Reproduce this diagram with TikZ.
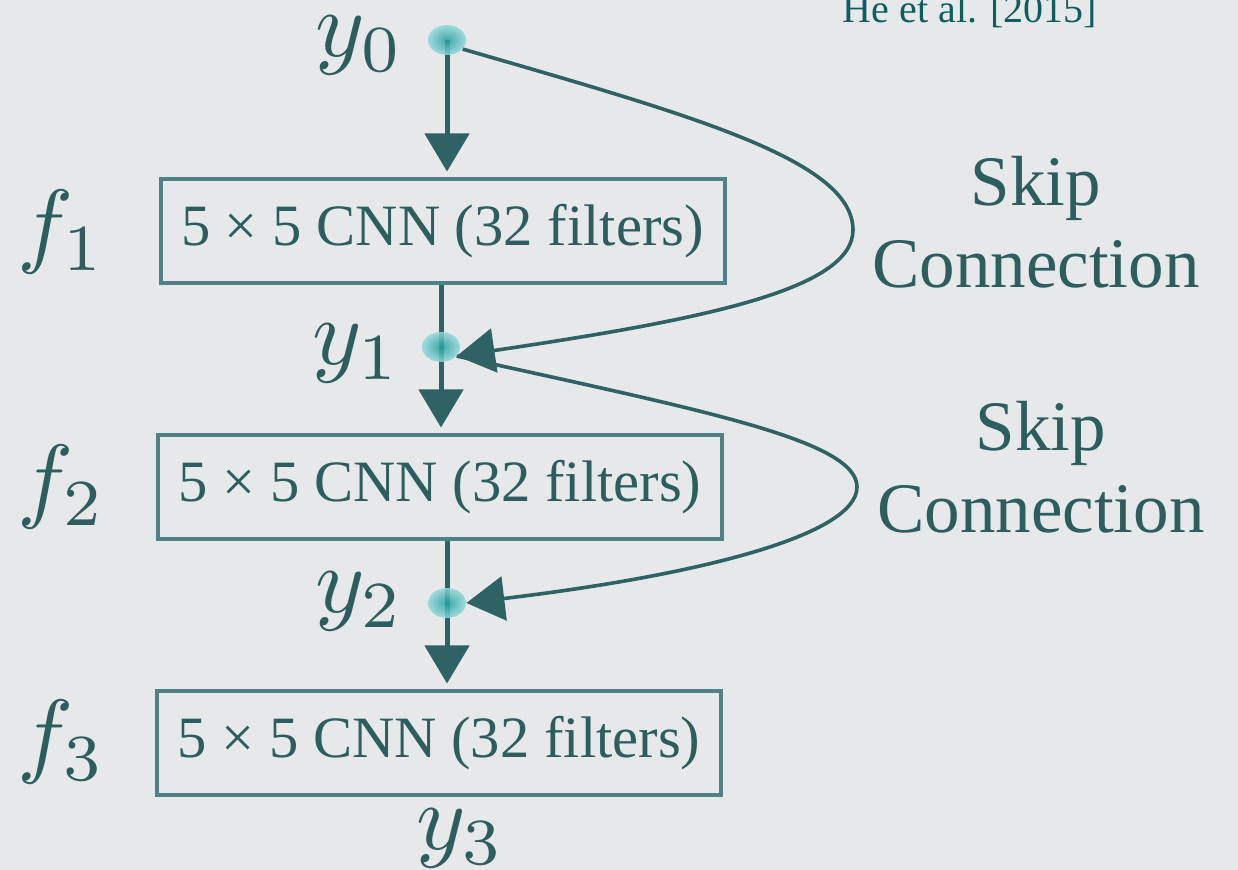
\documentclass[tikz,border=0pt]{standalone}
\usepackage{fontspec}
\setmainfont{Liberation Serif}
\newfontfamily\tms{Liberation Serif}
\usetikzlibrary{arrows.meta,shapes.geometric}
\definecolor{bg}{HTML}{E6E8EA}
\definecolor{tealA}{HTML}{2F6262}
\definecolor{boxc}{HTML}{4F8286}
\definecolor{txt}{HTML}{2D5E5E}
\definecolor{citec}{HTML}{0E5E5E}
\definecolor{dotin}{HTML}{1E9E9E}
\definecolor{dotout}{HTML}{95D8DA}
\pgfdeclarelayer{bgl}
\pgfdeclarelayer{fgl}
\pgfsetlayers{bgl,main,fgl}
\begin{document}
\begin{tikzpicture}[x=0.5pt,y=-0.5pt,
 cnn/.style={draw=boxc, line width=2pt, minimum width=282pt, minimum height=52pt, inner sep=0pt, text=txt, font=\tms\fontsize{29.3}{35}\selectfont},
 mlabel/.style={text=txt, font=\normalsize, scale=4.7, inner sep=0pt, anchor=base},
 ydot/.style={ellipse, minimum width=19pt, minimum height=15pt, inner sep=0pt, inner color=dotin, outer color=dotout, opacity=0.85},
 flow/.style={draw=tealA, line width=2.5pt, -{Triangle[length=19pt,width=22pt]}, shorten >=3pt},
 stem/.style={draw=tealA, line width=2.5pt},
 skip/.style={draw=tealA, line width=1.8pt, -{Triangle[length=19pt,width=22pt]}},
 skiplabel/.style={text=txt, align=center, font=\tms\fontsize{35.5}{41}\selectfont, inner sep=0pt}]
\useasboundingbox (0,0) rectangle (1238,870);
\begin{pgfonlayer}{bgl}
\fill[bg] (0,0) rectangle (1238,870);
\end{pgfonlayer}
% boxes
\node[cnn] (box1) at (442.5,231.5) {5 × 5 CNN (32 filters)};
\node[cnn] (box2) at (440,487.5) {5 × 5 CNN (32 filters)};
\node[cnn] (box3) at (439,743.5) {5 × 5 CNN (32 filters)};
% dots
\begin{pgfonlayer}{fgl}
\node[ydot] (y0dot) at (447,40) {};
\node[ydot] (y1dot) at (441,347) {};
\node[ydot] (y2dot) at (447,603) {};
\end{pgfonlayer}
% labels
\node[mlabel] (ly0) at (360,57) {$y_0$};
\node[mlabel] (ly1) at (357,365) {$y_1$};
\node[mlabel] (ly2) at (360,613) {$y_2$};
\node[mlabel] (ly3) at (461,850) {$y_3$};
\node[mlabel] (lf1) at (62,256) {$f_1$};
\node[mlabel] (lf2) at (62,511) {$f_2$};
\node[mlabel] (lf3) at (62,766) {$f_3$};
\node[text=citec, font=\tms\fontsize{20}{24}\selectfont, anchor=base, inner sep=0pt] (cite) at (970,23) {He et al. [2015]};
\node[skiplabel] (sk1) at (1036,222) {Skip\\Connection};
\node[skiplabel] (sk2) at (1041,467) {Skip\\Connection};
% flow
\draw[flow] (y0dot.center) -- (y0dot.center |- box1.north);
\draw[stem] (y1dot.center |- box1.south) -- (y1dot.center);
\draw[flow] (y1dot.center) -- (y1dot.center |- box2.north);
\draw[stem] (y2dot.center |- box2.south) -- (y2dot.center);
\draw[flow] (y2dot.center) -- (y2dot.center |- box3.north);
% skips
\draw[skip] (y0dot.-30) .. controls (690,115) and (853,160) .. (853,230)
  .. controls (853,290) and (700,320) .. (y1dot.-30);
\draw[skip] (y1dot.-30) .. controls (700,410) and (857,440) .. (857,487)
  .. controls (857,535) and (700,575) .. (y2dot.east);
\end{tikzpicture}
\end{document}
